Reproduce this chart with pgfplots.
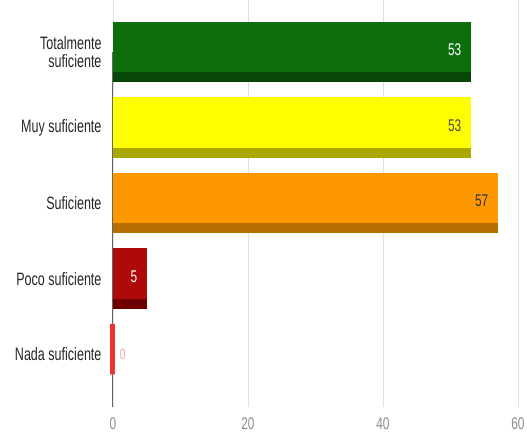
\documentclass[border=0pt]{standalone}
\usepackage{fontspec}
\setmainfont{Liberation Sans}[FakeStretch=0.7]
\usepackage{pgfplots}
\pgfplotsset{compat=1.18}
\definecolor{gface}{RGB}{12,110,12}
\definecolor{gshade}{RGB}{6,70,6}
\definecolor{yface}{RGB}{255,255,0}
\definecolor{yshade}{RGB}{170,168,0}
\definecolor{oface}{RGB}{255,152,0}
\definecolor{oshade}{RGB}{184,110,0}
\definecolor{rface}{RGB}{175,10,10}
\definecolor{rshade}{RGB}{110,0,0}
\definecolor{nface}{RGB}{238,50,50}
\begin{document}
\begin{tikzpicture}
\pgfplotsset{
  /pgf/number format/assume math mode=true,
  face/.style={xbar, bar width=0.667, bar shift=0.067, draw=none},
  shade/.style={xbar, bar width=0.8, bar shift=0, draw=none},
  lbl/.style={nodes near coords, nodes near coords style={anchor=east, xshift=-6bp, yshift=2bp, font=\fontsize{17}{18}\selectfont, text=#1}},
}
\begin{axis}[
  scale only axis,
  width=405bp, height=407bp,
  xmin=0, xmax=60,
  ymin=-0.70, ymax=4.69,
  xtick={0,20,40,60},
  ytick={0,1,2,3,4},
  yticklabels={Nada suficiente, Poco suficiente, Suficiente, Muy suficiente, {Totalmente\\suficiente}},
  yticklabel style={align=right, font=\fontsize{18}{19}\selectfont, text=black!85, xshift=-8bp},
  xticklabel style={font=\fontsize{17}{18}\selectfont, text=black!45, yshift=-7bp},
  xmajorgrids, grid style={black!12},
  axis line style={draw=none},
  major tick length=0pt,
  clip=false,
]
\draw[black!60, line width=1bp] (axis cs:0,-0.70) -- (axis cs:0,4.0);
% Totalmente suficiente
\addplot[shade, fill=gshade] coordinates {(53,4)};
\addplot[face, fill=gface, lbl=white] coordinates {(53,4)};
% Muy suficiente
\addplot[shade, fill=yshade] coordinates {(53,3)};
\addplot[face, fill=yface, lbl=black!70] coordinates {(53,3)};
% Suficiente
\addplot[shade, fill=oshade] coordinates {(57,2)};
\addplot[face, fill=oface, lbl=black!80] coordinates {(57,2)};
% Poco suficiente
\addplot[shade, fill=rshade] coordinates {(5,1)};
\addplot[face, fill=rface, lbl=white] coordinates {(5,1)};
% Nada suficiente
\addplot[face, fill=nface, draw=nface, line width=5bp, nodes near coords, nodes near coords style={anchor=west, xshift=1bp, font=\fontsize{15}{16}\selectfont, text=nface!45}] coordinates {(0,0)};
\end{axis}
\pgfresetboundingbox
\path[use as bounding box] (-113bp,-31bp) rectangle (414bp,407bp);
\end{tikzpicture}
\end{document}
